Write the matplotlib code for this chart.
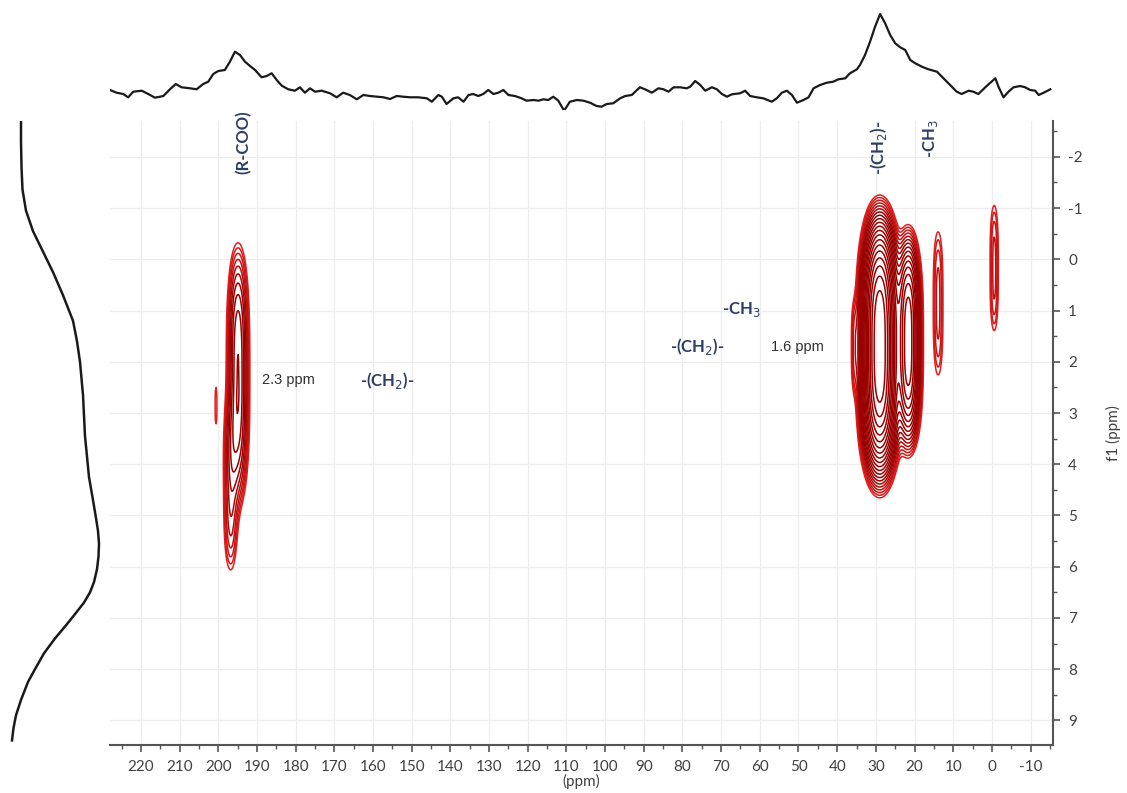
import numpy as np
import matplotlib
matplotlib.use("Agg")
import matplotlib.pyplot as plt
from matplotlib.colors import to_rgb
from matplotlib.ticker import MultipleLocator

plt.rcParams["axes.unicode_minus"] = False

# ---- data ----
# top (f2) projection: ppm and height above the baseline (arbitrary units)
top_ppm = [228.0, 226.3, 224.6, 223.3, 222.0, 219.8, 218.1, 216.4, 214.2, 212.5,
           211.0, 209.5, 207.3, 205.6, 203.9, 202.6, 201.3, 200.0, 198.3, 197.0,
           195.7, 194.4, 193.1, 191.8, 190.5, 188.8, 187.5, 186.2, 184.9, 183.6,
           181.9, 180.2, 178.9, 177.6, 176.3, 175.0, 173.3, 171.1, 169.4, 167.7,
           166.0, 164.2, 162.5, 160.8, 159.0, 157.3, 155.6, 153.9, 152.2, 150.4,
           148.3, 146.1, 144.8, 143.1, 142.2, 141.0, 139.2, 138.0, 136.6, 135.3,
           134.1, 132.8, 131.5, 130.2, 128.9, 127.6, 126.3, 125.0, 123.3, 121.6,
           120.3, 118.5, 117.2, 116.0, 114.7, 113.4, 112.1, 110.6, 109.1, 107.3,
           105.6, 103.9, 102.2, 100.9, 99.6, 97.9, 96.1, 94.8, 93.1, 91.0,
           89.7, 87.9, 86.2, 84.9, 83.6, 82.3, 80.6, 78.9, 78.0, 76.7,
           75.4, 74.1, 72.4, 71.1, 69.8, 68.5, 67.2, 65.1, 63.8, 62.5,
           60.8, 59.1, 56.9, 55.6, 54.3, 53.0, 51.7, 50.4, 48.7, 47.4,
           46.1, 44.4, 42.7, 41.0, 39.7, 37.9, 36.7, 34.9, 34.1, 32.8,
           31.5, 30.2, 28.9, 27.6, 26.3, 25.0, 23.7, 22.4, 21.1, 19.8,
           18.1, 16.4, 14.2, 12.5, 10.8, 9.1, 7.8, 6.0, 4.8, 3.5,
           1.7, 0.4, -0.9, -1.7, -3.0, -4.3, -5.6, -7.3, -8.6, -9.9,
           -11.2, -12.1, -13.4, -15.1]
top_int = [20.0, 17.3, 16.0, 12.7, 18.3, 19.3, 16.0, 12.3, 14.0, 20.7,
           26.0, 22.7, 21.7, 20.7, 26.0, 28.3, 36.0, 39.0, 40.0, 48.3,
           58.3, 55.0, 48.3, 44.0, 40.0, 32.7, 34.0, 36.7, 30.0, 24.3,
           20.7, 19.3, 22.7, 17.3, 21.7, 18.3, 19.3, 16.7, 12.7, 17.3,
           15.0, 10.7, 15.0, 14.0, 13.3, 12.7, 11.0, 14.0, 13.3, 12.7,
           12.7, 11.7, 8.3, 15.0, 13.3, 6.0, 11.7, 12.7, 8.3, 15.0,
           16.0, 14.0, 16.0, 20.0, 16.0, 17.3, 20.0, 15.0, 14.0, 11.7,
           9.3, 10.0, 9.3, 10.7, 10.0, 13.3, 9.3, -0.7, 8.3, 10.0,
           9.3, 7.3, 4.0, 3.3, 6.0, 6.7, 11.7, 14.0, 15.0, 22.7,
           20.7, 17.3, 21.7, 20.7, 18.3, 22.7, 22.7, 21.7, 23.3, 29.0,
           25.0, 19.3, 22.7, 20.7, 16.0, 13.3, 15.7, 16.7, 19.3, 14.0,
           12.7, 11.7, 8.3, 11.7, 17.3, 19.3, 15.0, 7.3, 10.0, 12.7,
           21.7, 25.0, 27.3, 28.3, 30.7, 31.7, 36.7, 40.7, 45.0, 55.0,
           68.3, 83.3, 96.0, 86.7, 75.0, 66.7, 62.7, 60.0, 50.0, 46.7,
           43.3, 40.7, 38.3, 31.7, 25.0, 18.3, 16.0, 19.3, 18.3, 16.0,
           22.7, 27.3, 31.7, 23.3, 12.7, 18.3, 22.7, 24.0, 22.7, 20.0,
           19.3, 15.0, 17.3, 20.7]

# left (f1) projection: ppm and intensity
left_ppm = [-2.72, -2.3, -1.8, -1.36, -0.95, -0.55, -0.15, 0.25, 0.7, 1.2,
            1.6, 2.0, 2.65, 3.45, 4.25, 4.7, 5.05, 5.3, 5.55, 5.8,
            6.05, 6.3, 6.5, 6.7, 6.9, 7.12, 7.4, 7.69, 8.0, 8.25,
            8.6, 8.9, 9.15, 9.39]
left_int = [21, 21, 21.5, 22.5, 26, 33, 43, 53, 63, 73,
            77, 80, 83, 85, 89, 93, 96, 98, 99, 98.5,
            97, 94, 90, 84, 76, 67, 55, 44, 35, 28,
            21, 16, 13.5, 12]

# 2D cross peaks: f2 centre, f1 centre, f2 width, f1 width, amplitude
peak_f2 = [194.9, 196.8, 200.6, 29.0, 21.6, 35.6, 13.9, -0.6]
peak_f1 = [2.25, 4.5, 2.85, 1.7, 1.6, 1.7, 0.86, 0.17]
peak_w2 = [1.5, 1.2, 0.5, 2.1, 1.5, 0.6, 1.0, 0.85]
peak_w1 = [1.6, 1.2, 0.6, 1.41, 1.2, 0.7, 1.2, 1.05]
peak_amp = [8.0, 3.0, 1.1, 100.0, 30.0, 1.6, 2.2, 2.2]

x_ticks = list(range(220, -11, -10))
y_ticks = list(range(-2, 10))

# ---- figure ----
W, H = 1127, 793
fig = plt.figure(figsize=(W / 100, H / 100), dpi=100)

X0, X1, Y0, Y1 = 110, 1053, 121, 745   # main plot box in pixels
XLIM = (228.0, -15.8)
YLIM = (9.48, -2.70)

ax = fig.add_axes([X0 / W, 1 - Y1 / H, (X1 - X0) / W, (Y1 - Y0) / H])
ax_top = fig.add_axes([X0 / W, 1 - 110 / H, (X1 - X0) / W, 110 / H])
ax_left = fig.add_axes([0, 1 - Y1 / H, X0 / W, (Y1 - Y0) / H])

# contour field built from the cross peak list
f2 = np.linspace(XLIM[0], XLIM[1], 1200)
f1 = np.linspace(YLIM[1], YLIM[0], 800)
F2, F1 = np.meshgrid(f2, f1)
Z = np.zeros_like(F2)
for c2, c1, w2, w1, a in zip(peak_f2, peak_f1, peak_w2, peak_w1, peak_amp):
    Z += a * np.exp(-0.5 * ((F2 - c2) / w2) ** 2 - 0.5 * np.abs((F1 - c1) / w1) ** 3)

levels = np.geomspace(1.0, 100.0, 21)
# outer contours bright red, inner ones dark red
c_lo, c_hi = np.array(to_rgb("#e41e1e")), np.array(to_rgb("#990000"))
level_colors = [tuple(c_lo + (c_hi - c_lo) * min(i / 6, 1.0)) for i in range(len(levels))]
ax.contour(F2, F1, Z, levels=levels, colors=level_colors, linewidths=1.1)

ax.set_xlim(*XLIM)
ax.set_ylim(*YLIM)
ax.set_xticks(x_ticks)
ax.set_yticks(y_ticks)
ax.xaxis.set_minor_locator(MultipleLocator(5))
ax.yaxis.set_minor_locator(MultipleLocator(0.5))
ax.yaxis.tick_right()
ax.grid(True, which="major", color="#ededed", linewidth=0.9)
ax.set_axisbelow(True)
for side in ("top", "left"):
    ax.spines[side].set_visible(False)
for side in ("bottom", "right"):
    ax.spines[side].set_color("#555555")
    ax.spines[side].set_linewidth(1.5)
ax.tick_params(which="major", length=5, width=1.2, color="#555555",
               labelsize=11, labelcolor="#404040", pad=6)
ax.tick_params(which="minor", length=3, width=1.0, color="#555555")
for lab in ax.get_xticklabels() + ax.get_yticklabels():
    lab.set_family("Lato")
ax.set_xlabel("(ppm)", fontsize=11, color="#404040", family="Lato", labelpad=0)
fig.text(1113 / W, 1 - 433 / H, "f1 (ppm)", rotation=90, ha="center", va="center",
         fontsize=11, color="#404040", family="Lato")

# annotations
navy = "#2c3e66"
ax.text(193.6, -2.29, "(R-COO)", rotation=90, ha="center", va="center",
        color=navy, fontsize=12, fontweight="bold", family="Lato")
ax.text(29.4, -2.18, "-(CH$_2$)-", rotation=90, ha="center", va="center",
        color=navy, fontsize=12, fontweight="bold", family="Lato")
ax.text(16.0, -2.35, "-CH$_3$", rotation=90, ha="center", va="center",
        color=navy, fontsize=12, fontweight="bold", family="Lato")
ax.text(163.4, 2.36, "-(CH$_2$)-", ha="left", va="center",
        color=navy, fontsize=12, fontweight="bold", family="Lato")
ax.text(83.2, 1.71, "-(CH$_2$)-", ha="left", va="center",
        color=navy, fontsize=12, fontweight="bold", family="Lato")
ax.text(69.7, 0.98, "-CH$_3$", ha="left", va="center",
        color=navy, fontsize=12, fontweight="bold", family="Lato")
ax.text(188.7, 2.36, "2.3 ppm", ha="left", va="center",
        color="#303030", fontsize=10.5, family="Liberation Sans")
ax.text(57.1, 1.71, "1.6 ppm", ha="left", va="center",
        color="#303030", fontsize=10.5, family="Liberation Sans")

# projections
ax_top.plot(top_ppm, top_int, color="#1a1a1a", linewidth=1.6)
ax_top.set_xlim(*XLIM)
ax_top.set_ylim(0, 110)
ax_top.axis("off")

ax_left.plot(left_int, left_ppm, color="#1a1a1a", linewidth=1.8)
ax_left.set_xlim(0, 110)
ax_left.set_ylim(*YLIM)
ax_left.axis("off")

fig.savefig("out.png", dpi=100)
